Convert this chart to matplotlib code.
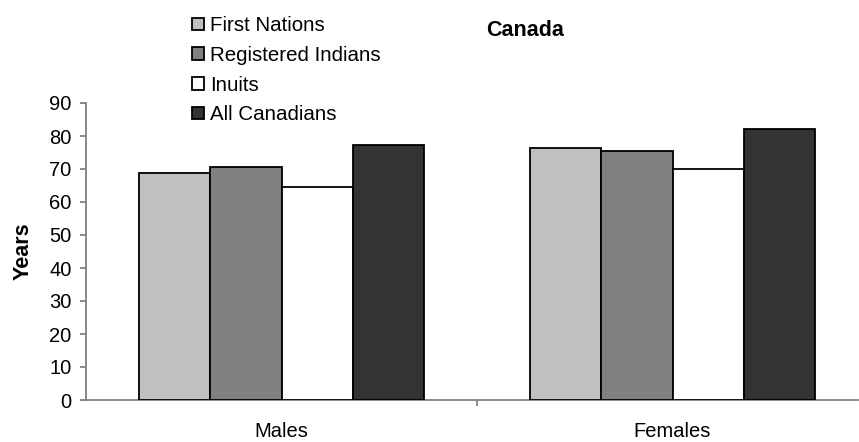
import numpy as np
import matplotlib.pyplot as plt

# ==== data ====
groups = ['Males', 'Females']
series = ['First Nations', 'Registered Indians', 'Inuits', 'All Canadians']
first_nations = [68.8, 76.5]
registered = [70.5, 75.4]
inuits = [64.5, 69.9]
all_canadians = [77.2, 82.1]
values = [first_nations, registered, inuits, all_canadians]
colors = ['#c0c0c0', '#808080', '#ffffff', '#333333']

plt.rcParams['font.family'] = ['Liberation Sans', 'DejaVu Sans']

# ==== plotting ====
fig = plt.figure(figsize=(8.59, 4.42), dpi=100)
ax = fig.add_axes([86/859, 1 - 400/442, 772/859, 297/442])

x = np.arange(len(groups))
w = 0.182
for ii, vals in enumerate(values):
    ax.bar(x + (ii - 1.5)*w, vals, width=w, color=colors[ii],
           edgecolor='black', linewidth=1.3, label=series[ii], zorder=3)

ax.set_xlim(-0.5, 1.5 - 10/391)
ax.set_ylim(0, 90)
ax.set_yticks(np.arange(0, 91, 10))
ax.set_xticks(x)
ax.set_xticklabels(groups)
ax.set_xticks([0.5], minor=True)
ax.tick_params(axis='x', which='major', length=0, pad=15.5, labelsize=14.5)
ax.tick_params(axis='x', which='minor', length=4.3, color='#808080', width=1.3)
ax.tick_params(axis='y', length=4.3, color='#808080', width=1.3, labelsize=14.5, pad=6)

for s in ['top', 'right']:
    ax.spines[s].set_visible(False)
for s in ['left', 'bottom']:
    ax.spines[s].set_color('#808080')
    ax.spines[s].set_linewidth(1.3)

ax.set_ylabel('Years', fontsize=15.5, fontweight='bold')
ax.yaxis.set_label_coords(-52/772, 0.5)
fig.text(525/859, 1 - 31/442, 'Canada', fontsize=15.5, fontweight='bold',
         ha='center', va='center')

fig.legend(loc='upper left', bbox_to_anchor=(184/859, 1 - 8/442), frameon=False,
           fontsize=14.8, handlelength=0.55, handleheight=0.55, handletextpad=0.3,
           labelspacing=0.52, borderaxespad=0)

fig.savefig('out.png', dpi=100)
